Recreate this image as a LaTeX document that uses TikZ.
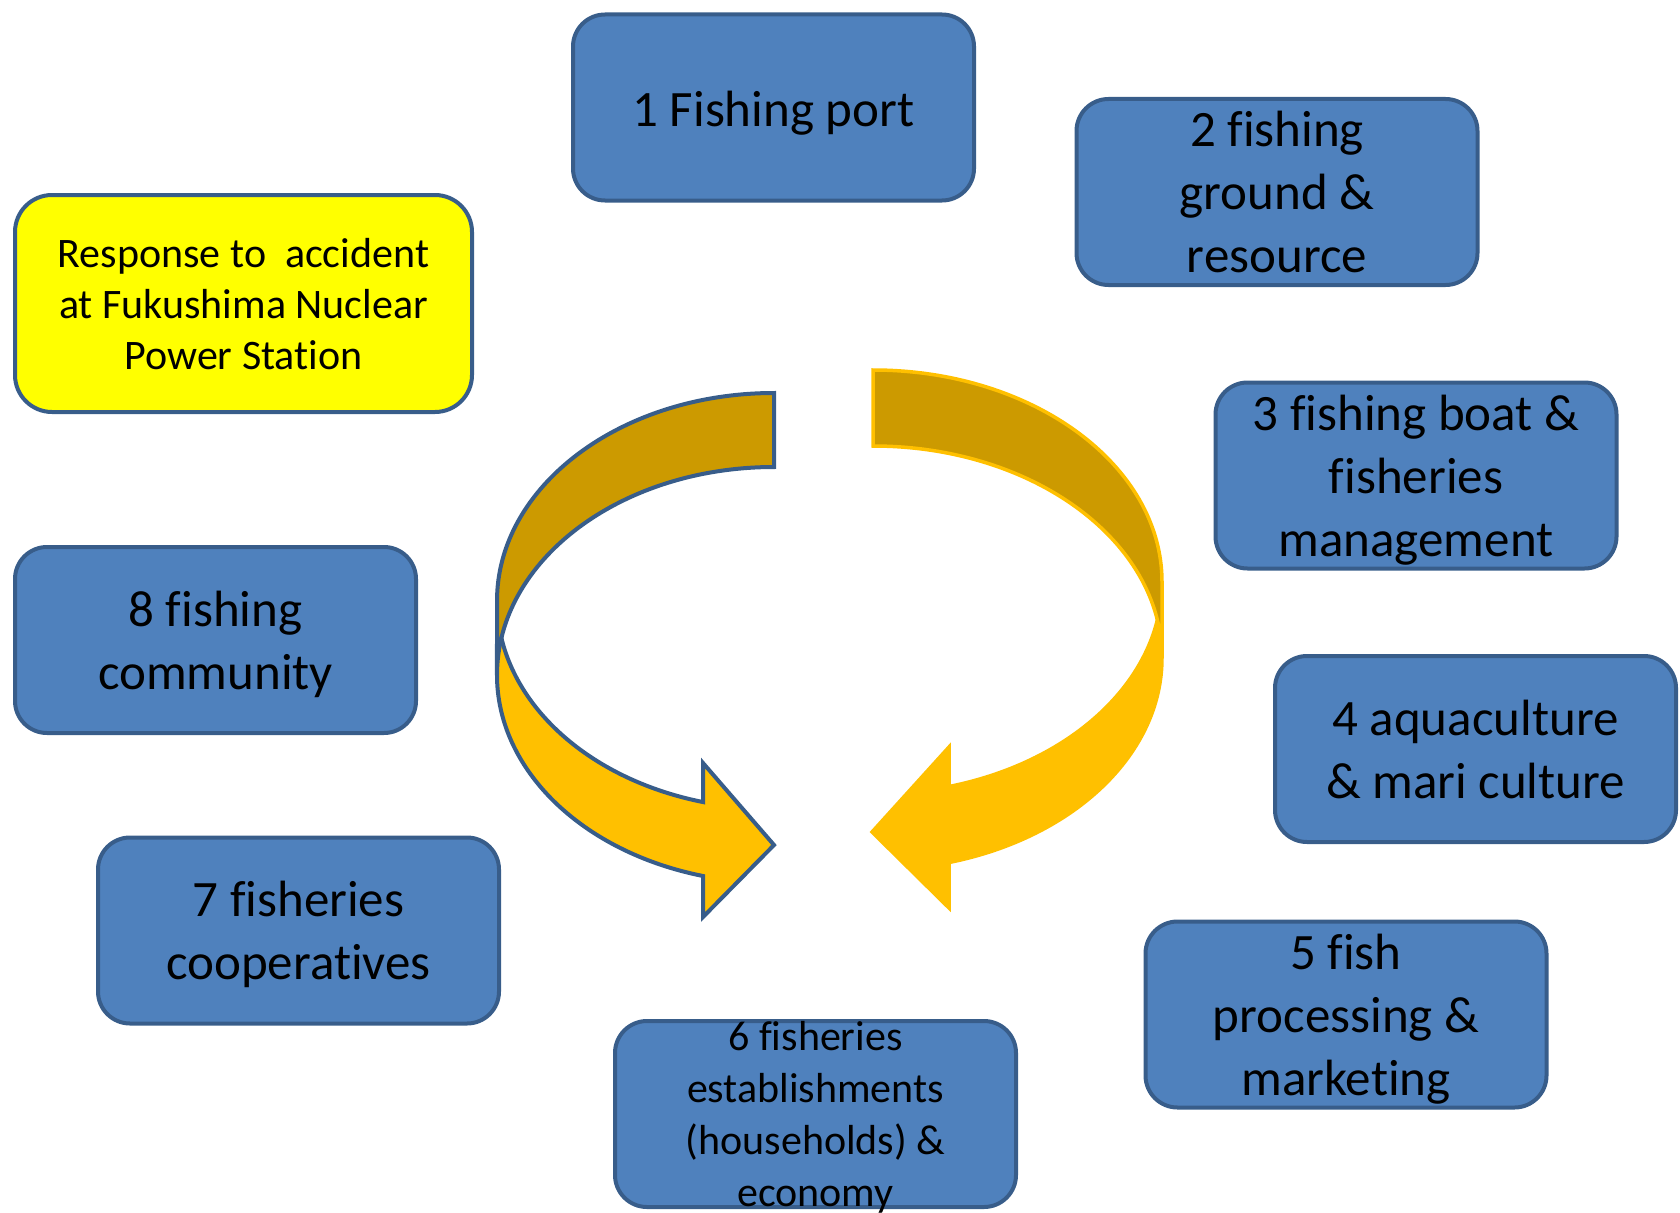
\documentclass[tikz,border=0pt]{standalone}
\usepackage{fontspec}
\setmainfont{Carlito}[Ligatures=CommonOff]
\usepackage{tikz}

\definecolor{boxblue}{HTML}{4F81BD}
\definecolor{boxline}{HTML}{385D8A}
\definecolor{notefill}{HTML}{FFFF00}
\definecolor{gold}{HTML}{FFC000}
\definecolor{darkgold}{HTML}{CC9A00}

\begin{document}
\begin{tikzpicture}[x=1pt, y=-1pt,
      box/.style={draw=boxline, line width=4pt, fill=boxblue, rounded corners=32pt,
        minimum width=401pt, minimum height=186pt, inner sep=0pt, align=center,
        font=\fontsize{51}{63}\selectfont, text depth=-3pt},
      notebox/.style={box, fill=notefill, rounded corners=37pt,
        minimum width=457pt, minimum height=217pt,
        font=\fontsize{42}{51}\selectfont, text depth=-1.5pt},
      smalltext/.style={inner sep=0pt, align=center, font=\fontsize{42}{52}\selectfont,
        text depth=-3.5pt}]

      \useasboundingbox (0,0) rectangle (1680,1212);

      % left arrow
      \filldraw[fill=gold, draw=boxline, line width=4pt, line join=miter]
        (497,601) arc[start angle=180, end angle=104.85, x radius=277, y radius=208]
        -- (703,763) -- (774,845) -- (703,917) -- (703,876)
        arc[start angle=104.85, end angle=180, x radius=277, y radius=208] -- cycle;
      \filldraw[fill=darkgold, draw=boxline, line width=4pt, line join=miter]
        (774,467) arc[start angle=270, end angle=180, x radius=277, y radius=208]
        -- (497,601) arc[start angle=180, end angle=270, x radius=277, y radius=208] -- cycle;

      % right arrow
      \filldraw[fill=gold, draw=gold, line width=3.5pt, line join=miter]
        (1162,582) arc[start angle=0, end angle=74.75, x radius=289, y radius=212]
        -- (949,747) -- (872,832) -- (949,908) -- (949,862.5)
        arc[start angle=74.75, end angle=0, x radius=289, y radius=212] -- cycle;
      \filldraw[fill=darkgold, draw=gold, line width=3.5pt, line join=miter]
        (873,446) arc[start angle=270, end angle=360, x radius=289, y radius=212]
        -- (1162,582) arc[start angle=0, end angle=-90, x radius=289, y radius=212] -- cycle;

      \node (port) [box, text height=37pt] at (773.5,107.5) {1 Fishing port};
      \node (ground) [box] at (1277,192) {2 fishing\\ground \&\\resource};
      \node (boat) [box] at (1416,475.5) {3 fishing boat \&\\fisheries\\management};
      \node (aqua) [box] at (1475.5,749) {4 aquaculture\\\& mari culture};
      \node (proc) [box] at (1346,1014.5) {5 fish\\processing \&\\marketing};
      \node (estab) [box] at (815.5,1114) {};
      \node (estabtext) [smalltext] at (estab.center) {6 fisheries\\establishments\\(households) \&\\economy};
      \node (coop) [box] at (298.5,930.5) {7 fisheries\\cooperatives};
      \node (community) [box] at (215.5,640) {8 fishing\\community};

      \node (accident) [notebox] at (243.5,303.5) {Response to\ \ accident\\at Fukushima Nuclear\\Power Station};

    \end{tikzpicture}
\end{document}
